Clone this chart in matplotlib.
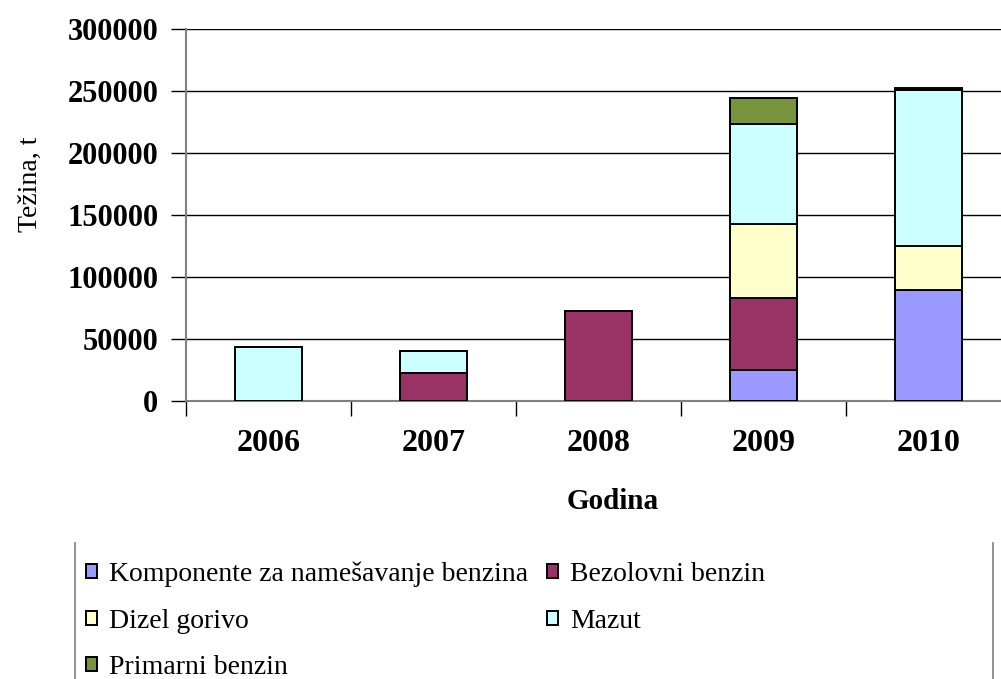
import matplotlib.pyplot as plt
import numpy as np
from matplotlib.lines import Line2D

godine = ["2006", "2007", "2008", "2009", "2010"]
komponente = [0, 0, 0, 25000, 89500]
bezolovni = [0, 22300, 72500, 57800, 0]
dizel = [0, 0, 0, 59900, 35500]
mazut = [43700, 18000, 0, 81100, 125700]
primarni = [0, 0, 0, 21000, 2100]

serije = [komponente, bezolovni, dizel, mazut, primarni]
nazivi = ["Komponente za namešavanje benzina", "Bezolovni benzin",
          "Dizel gorivo", "Mazut", "Primarni benzin"]
boje = ["#9999FF", "#993366", "#FFFFCC", "#CCFFFF", "#77933C"]

plt.rcParams['font.family'] = ['Liberation Serif', 'DejaVu Serif']

fig = plt.figure(figsize=(10.01, 6.79), dpi=100)
ax = fig.add_axes([0.186, 0.4094, 0.824, 0.5478])

x = np.arange(len(godine))
dno = np.zeros(len(godine))
ruke = []
for vrijednosti, naziv, boja in zip(serije, nazivi, boje):
    v = np.array(vrijednosti, dtype=float)
    b = ax.bar(x, v, 0.406, bottom=dno, color=boja, edgecolor="black",
               linewidth=1.4, label=naziv, zorder=3)
    ruke.append(b)
    dno = dno + v

ax.set_ylim(0, 300000)
ax.set_xlim(-0.5, 4.5)
ax.set_yticks(np.arange(0, 300001, 50000))
ax.yaxis.grid(True, color="black", linewidth=1.0, zorder=0)
ax.set_xticks(x)
ax.set_xticklabels(godine, fontsize=23, fontweight="bold")
ax.set_xticks(np.arange(-0.5, 5, 1), minor=True)
ax.tick_params(axis="x", which="major", length=0, pad=20)
ax.tick_params(axis="x", which="minor", length=11, color="black", width=1)
ax.tick_params(axis="y", length=11, color="black", width=1, pad=9)
for lab in ax.get_yticklabels():
    lab.set_fontsize(22)
    lab.set_fontweight("bold")

for s in ["top", "right"]:
    ax.spines[s].set_visible(False)
ax.spines["left"].set_color("#808080")
ax.spines["bottom"].set_color("#808080")
ax.spines["left"].set_linewidth(1.5)
ax.spines["bottom"].set_linewidth(1.5)

ax.set_ylabel("Težina, t", fontsize=20)
ax.yaxis.set_label_coords(-0.174, 0.583)
ax.set_xlabel("Godina", fontsize=21, fontweight="bold")
ax.xaxis.set_label_coords(0.517, -0.234)

# redoslijed da legenda ide po redovima
poredak = [0, 2, 4, 1, 3]
leg = fig.legend([ruke[i] for i in poredak], [nazivi[i] for i in poredak],
                 ncol=2, loc="upper left", bbox_to_anchor=(0.0859, 0.173),
                 frameon=False, fontsize=20, handlelength=0.4,
                 handleheight=0.4, handletextpad=0.43, labelspacing=0.78,
                 columnspacing=0.68, borderaxespad=0, borderpad=0)

fig.add_artist(Line2D([0.075, 0.075], [0.0, 0.2], color="#808080", lw=1.2))
fig.add_artist(Line2D([0.992, 0.992], [0.0, 0.2], color="#808080", lw=1.2))

fig.savefig("out.png", dpi=100)
